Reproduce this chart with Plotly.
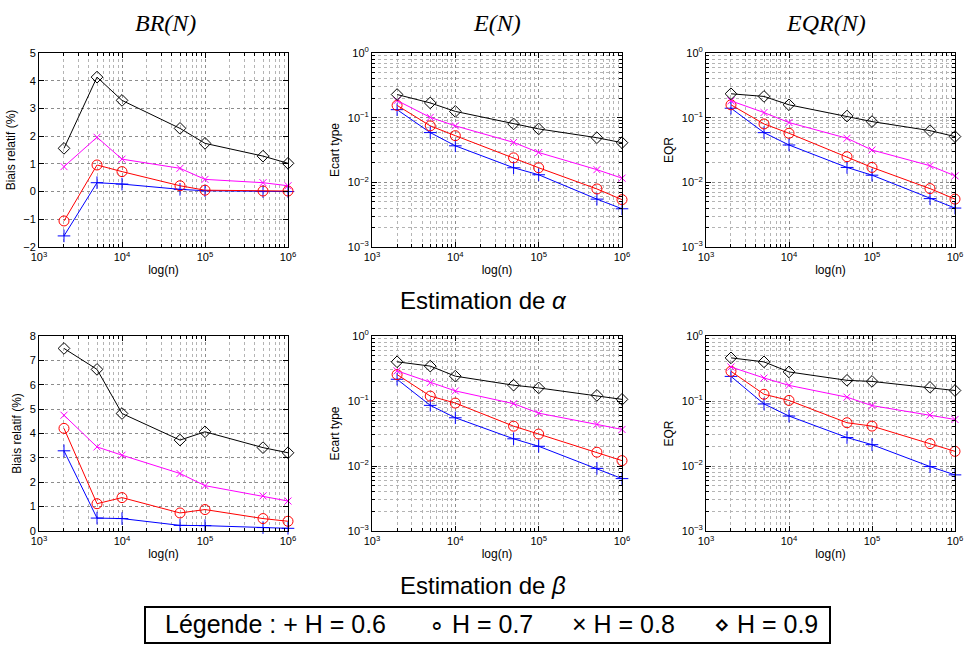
import plotly.graph_objects as go

n_values = [2000, 5000, 10000, 50000, 100000, 500000, 1000000]
H_labels = ["H=0.6", "H=0.7", "H=0.8", "H=0.9"]
log_tickvals_x = [1e3, 1e4, 1e5, 1e6]
log_ticktext_x = ["10<sup>3</sup>", "10<sup>4</sup>", "10<sup>5</sup>", "10<sup>6</sup>"]
log_tickvals_y = [1e-3, 1e-2, 1e-1, 1e0]
log_ticktext_y = ["10<sup>−3</sup>", "10<sup>−2</sup>", "10<sup>−1</sup>", "10<sup>0</sup>"]
minor_x = [m * 10 ** e for e in (3, 4, 5) for m in range(2, 10)]
minor_y = [m * 10.0 ** e for e in (-3, -2, -1) for m in range(2, 10)]

# Estimation de alpha
br_alpha = {
    "H=0.6": [-1.60, 0.32, 0.27, 0.08, 0.03, 0.00, 0.00],
    "H=0.7": [-1.06, 0.96, 0.72, 0.21, 0.05, 0.02, 0.02],
    "H=0.8": [0.90, 1.96, 1.17, 0.84, 0.44, 0.32, 0.21],
    "H=0.9": [1.56, 4.13, 3.29, 2.28, 1.74, 1.28, 1.02],
}
e_alpha = {
    "H=0.6": [0.133, 0.0588, 0.0367, 0.0168, 0.0131, 0.0055, 0.0039],
    "H=0.7": [0.155, 0.0747, 0.0527, 0.0239, 0.0168, 0.0079, 0.0054],
    "H=0.8": [0.184, 0.101, 0.0747, 0.0415, 0.0289, 0.0157, 0.0116],
    "H=0.9": [0.228, 0.169, 0.125, 0.080, 0.067, 0.049, 0.041],
}
eqr_alpha = {
    "H=0.6": [0.140, 0.0587, 0.0378, 0.0170, 0.0129, 0.0056, 0.0040],
    "H=0.7": [0.158, 0.080, 0.0574, 0.0249, 0.0170, 0.0080, 0.0055],
    "H=0.8": [0.182, 0.120, 0.084, 0.048, 0.0316, 0.0181, 0.0126],
    "H=0.9": [0.234, 0.213, 0.158, 0.106, 0.087, 0.063, 0.051],
}
# Estimation de beta
br_beta = {
    "H=0.6": [3.29, 0.53, 0.51, 0.23, 0.22, 0.14, 0.11],
    "H=0.7": [4.21, 1.12, 1.37, 0.74, 0.88, 0.51, 0.40],
    "H=0.8": [4.75, 3.45, 3.11, 2.36, 1.86, 1.44, 1.23],
    "H=0.9": [7.49, 6.63, 4.82, 3.73, 4.07, 3.42, 3.21],
}
e_beta = {
    "H=0.6": [0.216, 0.0857, 0.0552, 0.0262, 0.0201, 0.0092, 0.0064],
    "H=0.7": [0.255, 0.119, 0.093, 0.041, 0.031, 0.0163, 0.0121],
    "H=0.8": [0.291, 0.192, 0.143, 0.091, 0.065, 0.0436, 0.0365],
    "H=0.9": [0.401, 0.344, 0.241, 0.175, 0.159, 0.122, 0.106],
}
eqr_beta = {
    "H=0.6": [0.239, 0.090, 0.0587, 0.0274, 0.0213, 0.0098, 0.0073],
    "H=0.7": [0.286, 0.127, 0.102, 0.0463, 0.0411, 0.0221, 0.0168],
    "H=0.8": [0.334, 0.226, 0.174, 0.1145, 0.085, 0.0608, 0.052],
    "H=0.9": [0.461, 0.400, 0.280, 0.208, 0.200, 0.162, 0.145],
}

styles = {
    "H=0.6": dict(color="#0000ff", symbol="cross-thin-open", size=9),
    "H=0.7": dict(color="#ff0000", symbol="circle-open", size=10),
    "H=0.8": dict(color="#ff00ff", symbol="x-thin-open", size=7),
    "H=0.9": dict(color="#000000", symbol="diamond-open", size=9),
}

W, Hh = 966, 648


def px(x):
    return x / W


def py(y):
    return 1 - y / Hh


cols_px = [(39, 288), (372, 622), (706, 955)]
rows_px = [(53, 247), (336, 531)]

panels = [
    (0, 0, br_alpha, "lin", [-2, 5], "Biais relatif (%)"),
    (0, 1, e_alpha, "log", [-3, 0], "Ecart type"),
    (0, 2, eqr_alpha, "log", [-3, 0], "EQR"),
    (1, 0, br_beta, "lin", [0, 8], "Biais relatif (%)"),
    (1, 1, e_beta, "log", [-3, 0], "Ecart type"),
    (1, 2, eqr_beta, "log", [-3, 0], "EQR"),
]

fig = go.Figure()
sansax = "Liberation Sans, Arial, sans-serif"
tickfont = dict(family=sansax, size=11, color="black")
titlefont = dict(family=sansax, size=12, color="black")
grid = dict(gridcolor="#8c8c8c", griddash="dot", gridwidth=1)


def minor_of(vals):
    return dict(tickmode="array", tickvals=vals, ticks="inside", ticklen=3,
                tickcolor="black", showgrid=True, gridcolor="#b4b4b4",
                griddash="dot", gridwidth=1)


for k, (r, c, data, ytype, yrange, ytitle) in enumerate(panels):
    idx = "" if k == 0 else str(k + 1)
    xa, ya = "x" + idx, "y" + idx
    for h in H_labels:
        st = styles[h]
        fig.add_trace(go.Scatter(
            x=n_values, y=data[h], xaxis=xa, yaxis=ya, mode="lines+markers",
            line=dict(color=st["color"], width=1),
            marker=dict(symbol=st["symbol"], size=st["size"], color=st["color"],
                        line=dict(color=st["color"], width=1)),
            showlegend=False, name=h, cliponaxis=False))
    x0, x1 = cols_px[c]
    y0, y1 = rows_px[r]
    xdom = [px(x0), px(x1)]
    ydom = [py(y1), py(y0)]
    xaxis = dict(type="log", range=[3, 6], domain=xdom, anchor=ya,
                 tickmode="array", tickvals=log_tickvals_x, ticktext=log_ticktext_x,
                 showline=True, linecolor="black", linewidth=1, automargin=False,
                 mirror="allticks", ticks="inside", ticklen=5, tickcolor="black",
                 tickfont=tickfont, showgrid=True, **grid, zeroline=False,
                 minor=minor_of(minor_x),
                 title=dict(text="log(n)", font=titlefont, standoff=3))
    if ytype == "log":
        yaxis = dict(type="log", range=yrange, tickmode="array",
                     tickvals=log_tickvals_y, ticktext=log_ticktext_y, minor=minor_of(minor_y))
    else:
        yaxis = dict(type="linear", range=yrange, dtick=1)
    yaxis.update(domain=ydom, anchor=xa, showline=True, linecolor="black", linewidth=1,
                 mirror="allticks", ticks="inside", ticklen=5, tickcolor="black",
                 tickfont=tickfont, showgrid=True, **grid, zeroline=False, automargin=False,
                 title=dict(text=ytitle, font=titlefont, standoff=5))
    key = "" if k == 0 else str(k + 1)
    fig.update_layout({"xaxis" + key: xaxis, "yaxis" + key: yaxis})

titles = [("BR(N)", 165), ("E(N)", 497), ("EQR(N)", 826)]
for t, xp in titles:
    fig.add_annotation(text="<i>" + t + "</i>", x=px(xp), y=py(23), xref="paper", yref="paper",
                       showarrow=False, xanchor="center", yanchor="middle",
                       font=dict(family="Liberation Serif, serif", size=24, color="black"))

sans = "Liberation Sans, Arial, sans-serif"
fig.add_annotation(text="Estimation de <i>α</i>", x=px(483), y=py(300), xref="paper", yref="paper",
                   showarrow=False, xanchor="center", yanchor="middle",
                   font=dict(family=sans, size=24, color="black"))
fig.add_annotation(text="Estimation de <i>β</i>", x=px(483), y=py(585), xref="paper", yref="paper",
                   showarrow=False, xanchor="center", yanchor="middle",
                   font=dict(family=sans, size=24, color="black"))

nb = "\u00a0"
legend_items = [
    ("Légende" + nb + ":" + nb + "+" + nb + "H" + nb + "=" + nb + "0.6", 388),
    ("∘" + nb + "H" + nb + "=" + nb + "0.7", 535),
    ("×" + nb + "H" + nb + "=" + nb + "0.8", 677),
    ("⋄" + nb + "H" + nb + "=" + nb + "0.9", 820),
]
fig.add_shape(type="rect", xref="paper", yref="paper", x0=px(145), x1=px(830),
              y0=py(643), y1=py(607), line=dict(color="black", width=2))
for txt, xr in legend_items:
    fig.add_annotation(text=txt, x=px(xr), y=py(624), xref="paper", yref="paper",
                       showarrow=False, xanchor="right", yanchor="middle",
                       font=dict(family=sans, size=25, color="black"))

fig.update_layout(width=W, height=Hh, margin=dict(l=0, r=0, t=0, b=0),
                  paper_bgcolor="white", plot_bgcolor="white")

fig.write_html("out.html", config={"displayModeBar": False},
               post_script="document.body.style.margin='0';"
                           "document.documentElement.style.overflow='hidden';"
                           "document.body.style.overflow='hidden';")
